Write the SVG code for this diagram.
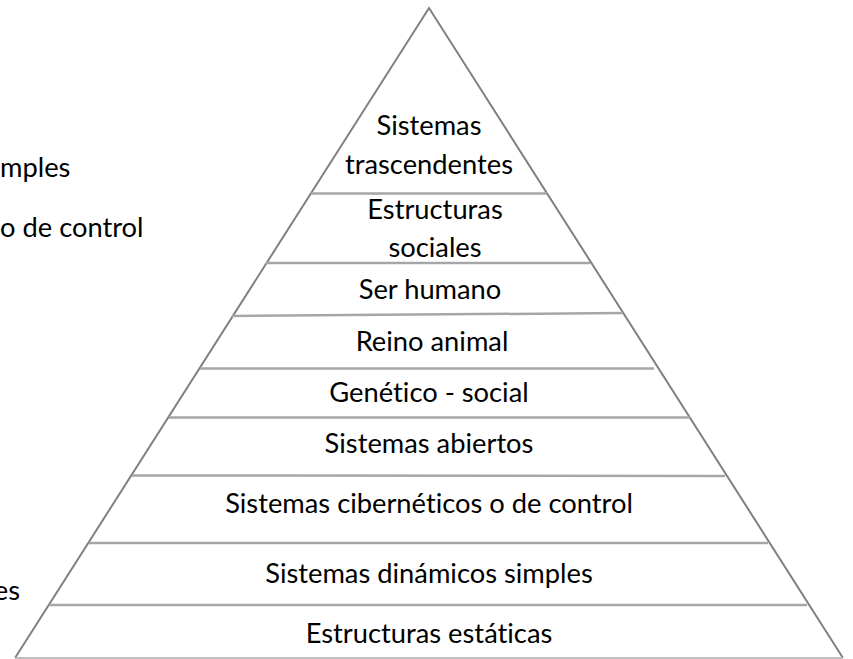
<svg xmlns="http://www.w3.org/2000/svg" width="853" height="659" viewBox="0 0 853 659">
<style>
.t{font-family:Lato,"Open Sans","Liberation Sans",sans-serif;font-size:27.3px;fill:#000;text-anchor:middle;font-variant-ligatures:none}
.l{font-family:Lato,"Open Sans","Liberation Sans",sans-serif;font-size:27.3px;fill:#000;font-variant-ligatures:none}
.edge{fill:none;stroke:#808080;stroke-width:2}
.sep{stroke:#a6a6a6;stroke-width:2.5;fill:none}
.base{stroke:#bfbfbf;stroke-width:2;fill:none}
</style>
<rect width="853" height="659" fill="#fff"/>
<g id="outline">
<polyline class="edge" points="15,658 429,8 843,658"/>
<line class="base" x1="15" y1="658" x2="843" y2="658"/>
</g>
<g id="separators">
<line class="sep" x1="311" y1="193.5" x2="547" y2="193.5"/>
<line class="sep" x1="266" y1="263" x2="590" y2="263"/>
<line class="sep" x1="232" y1="316" x2="623" y2="313"/>
<line class="sep" x1="200" y1="368.5" x2="654" y2="368.5"/>
<line class="sep" x1="169" y1="417.5" x2="690" y2="417.5"/>
<line class="sep" x1="132" y1="475.5" x2="725" y2="476"/>
<line class="sep" x1="89" y1="543" x2="768" y2="543"/>
<line class="sep" x1="49" y1="605" x2="807" y2="605"/>
</g>
<g id="n-trascendentes"><text class="t" x="429" y="135">Sistemas</text><text class="t" x="429" y="174">trascendentes</text></g>
<g id="n-sociales"><text class="t" x="435" y="219">Estructuras</text><text class="t" x="435" y="257">sociales</text></g>
<g id="n-humano"><text class="t" x="430" y="299">Ser humano</text></g>
<g id="n-animal"><text class="t" x="432" y="351">Reino animal</text></g>
<g id="n-genetico"><text class="t" x="429" y="402">Genético - social</text></g>
<g id="n-abiertos"><text class="t" x="429" y="453">Sistemas abiertos</text></g>
<g id="n-ciberneticos"><text class="t" x="429" y="513">Sistemas cibernéticos o de control</text></g>
<g id="n-dinamicos"><text class="t" x="429" y="583">Sistemas dinámicos simples</text></g>
<g id="n-estaticas"><text class="t" x="429" y="643">Estructuras estáticas</text></g>
<g id="left-fragments">
<text class="l" x="0" y="177">mples</text>
<text class="l" x="0" y="237">o de control</text>
<text class="l" x="20" y="600" text-anchor="end">es</text>
</g>
</svg>
